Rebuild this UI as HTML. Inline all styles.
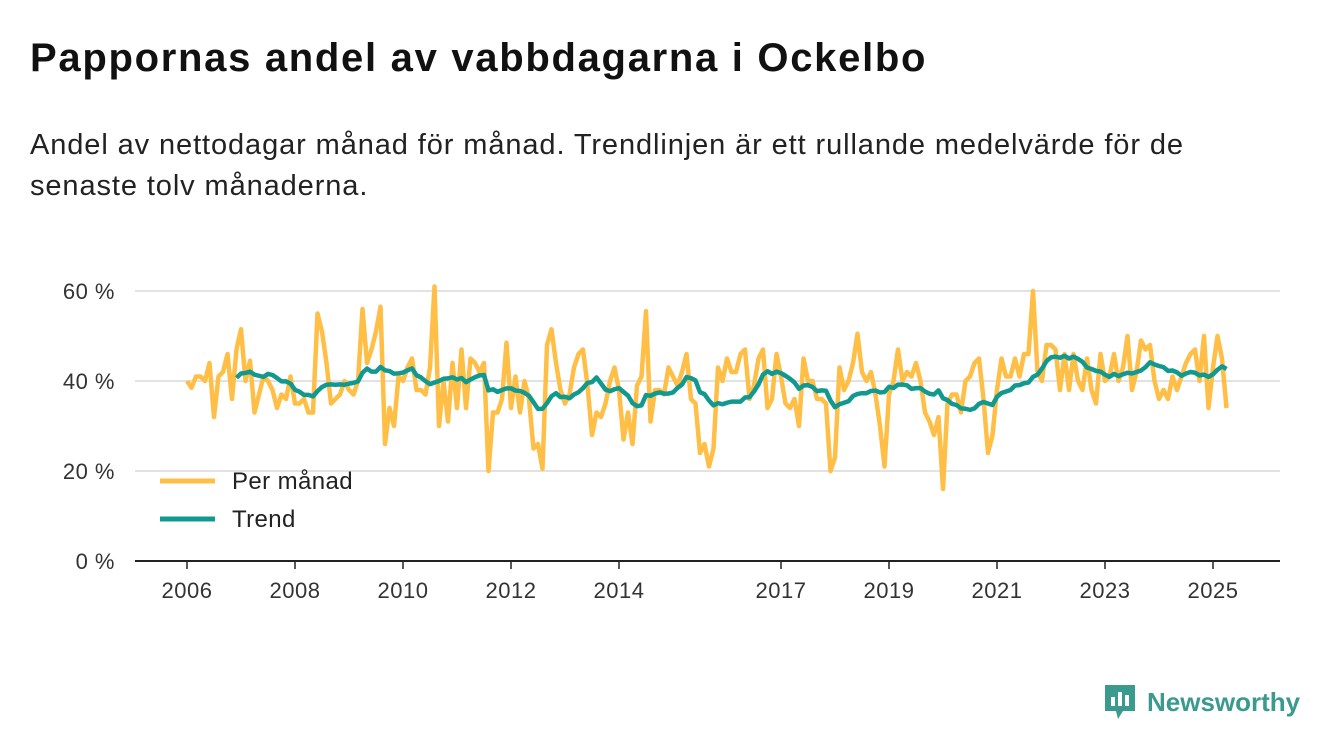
<!DOCTYPE html>
<html><head><meta charset="utf-8">
<style>
body{margin:0;background:#fff;width:1340px;height:753px;overflow:hidden;font-family:"Liberation Sans","DejaVu Sans",sans-serif;color:#111}
h1{position:absolute;left:30px;top:36px;margin:0;font-size:40px;font-weight:bold;letter-spacing:1.7px;z-index:2}
p.sub{position:absolute;left:30px;top:125px;margin:0;font-size:29px;line-height:41px;width:1220px;color:#222;letter-spacing:0.9px;z-index:2}
svg{position:absolute;left:0;top:0}
#chart{z-index:0}
</style></head><body>
<h1>Pappornas andel av vabbdagarna i Ockelbo</h1>
<p class="sub">Andel av nettodagar månad för månad. Trendlinjen är ett rullande medelvärde för de senaste tolv månaderna.</p>
<svg id="chart" width="1340" height="753"></svg>
<script>
const yTicks=[0,20,40,60];
const yTickLabels=["0 %","20 %","40 %","60 %"];
const xTickYears=[2006,2008,2010,2012,2014,2017,2019,2021,2023,2025];
const startYear=2006;
const monthly=[
40,38.5,41,41,40,44,32,41,42,46,36,47,
51.5,40,44.5,33,37,41,40,38,34,37,36,41,
35,35,36,33,33,55,51,44,35,36,37,40,
38,37,40,56,44,47,51,56.5,26,34,30,41,
40,43,45,38,38,37,43,61,30,40,31,44,
34,47,34,45,44,42,44,20,33,33,36,48.5,
34,41,33,40,36,25,26,20.5,48,51.5,44,38,
35,37,43,46,47,39,28,33,32,35,40,43,
38,27,33,26,39,41,55.5,31,38,38,37,43,
41,39,42,46,36,35,24,26,21,25,43,40,
45,42,42,46,47,36,39,45,47,34,36,46,
41,35,34,36,30,45,40,40,36,36,35,20,
23,43,38,40,44,50.5,42,40,42,37,30,21,
37,40,47,40,42,41,44,40,33,31,28,32,
16,35,37,37,33,40,41,44,45,36,24,28,
38,45,41,41,45,41,46,46,60,42,40,48,
48,47,38,46,38,46,40,38,45,38,35,46,
40,41,46,40,43,50,38,42,49,47,48,40,
36,38,36,41,38,41,44,46,47,40,50,34,
43,50,45,34];
const NS="http://www.w3.org/2000/svg";
const svg=document.getElementById('chart');
const x0=187,pxYear=54,y0=561,pxPct=4.5;
function xScale(t){return x0+t*pxYear;}
function yScale(v){return y0-v*pxPct;}
function mk(tag,attrs){const e=document.createElementNS(NS,tag);for(const k in attrs)e.setAttribute(k,attrs[k]);svg.appendChild(e);return e;}
yTicks.forEach((v,i)=>{
  if(v>0){const g=mk('line',{x1:135,x2:1280,y1:yScale(v),y2:yScale(v),stroke:'#d9d9d9','stroke-width':1.5});
  
  }
  const t=mk('text',{x:115,y:yScale(v)+8,'text-anchor':'end','font-size':22,fill:'#333','letter-spacing':'0.5'});
  t.textContent=yTickLabels[i];
  
  
});
const ax=mk('line',{x1:135,x2:1280,y1:y0,y2:y0,stroke:'#222','stroke-width':2});


xTickYears.forEach(yr=>{
  const x=xScale(yr-startYear);
  const tk=mk('line',{x1:x,x2:x,y1:y0,y2:y0+8,stroke:'#222','stroke-width':1.5});
  
  
  const t=mk('text',{x:x,y:598,'text-anchor':'middle','font-size':22,fill:'#333','letter-spacing':'0.5'});
  t.textContent=yr;
  
  
});
function pts(arr,off){return arr.map((v,i)=>v==null?null:xScale((i+off)/12)+','+yScale(v)).filter(Boolean).join(' ');}
const ml=mk('polyline',{points:pts(monthly,0),fill:'none',stroke:'#ffbe45','stroke-width':4.5,'stroke-linejoin':'round'});


const trend=monthly.map((v,i)=>{if(i<11)return null;let s=0;for(let j=i-11;j<=i;j++)s+=monthly[j];return s/12;});
const tl=mk('polyline',{points:pts(trend,0),fill:'none',stroke:'#12998f','stroke-width':4.5,'stroke-linejoin':'round'});


[['Per månad','#ffbe45',481],['Trend','#12998f',519]].forEach(([lab,c,y])=>{
  const l=mk('line',{x1:160,x2:215,y1:y,y2:y,stroke:c,'stroke-width':5});
  
  
  const t=mk('text',{x:232,y:y+8,'font-size':24,fill:'#222','letter-spacing':'0.4'});
  t.textContent=lab;
  
  
});
</script>
<div style="position:absolute;left:1103px;top:683px;display:flex;align-items:center">
<svg width="34" height="38" style="position:static" viewBox="0 0 34 38"><path d="M2 2h30v26H20l-5 8-2-8H2z" fill="#3a9a8e"/><rect x="8" y="14" width="4" height="9" fill="#fff"/><rect x="15" y="9" width="4" height="14" fill="#fff"/><rect x="22" y="12" width="4" height="11" fill="#fff"/></svg>
<span style="font-size:26px;font-weight:bold;color:#3a9a8e;margin-left:10px">Newsworthy</span></div>
</body></html>
